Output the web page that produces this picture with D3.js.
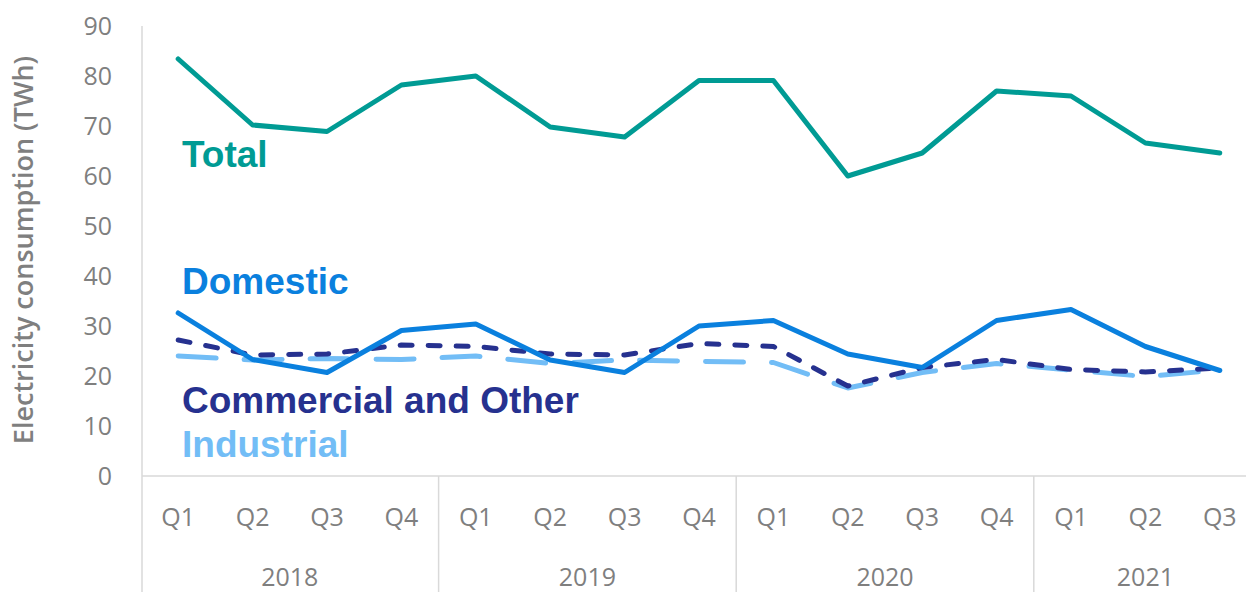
<!DOCTYPE html>
<html>
<head>
<meta charset="utf-8">
<script src="https://cdn.jsdelivr.net/npm/d3@7"></script>
<style>
  body { margin: 0; background: #fff; }
  svg { display: block; }
</style>
</head>
<body>
<div id="chart"></div>
<script>
// quarters and years for the two-level category axis
var quarters = ["Q1","Q2","Q3","Q4","Q1","Q2","Q3","Q4","Q1","Q2","Q3","Q4","Q1","Q2","Q3"];
var years = ["2018","2019","2020","2021"];
var yearCounts = [4, 4, 4, 3];
var yTicks = [0, 10, 20, 30, 40, 50, 60, 70, 80, 90];

// electricity consumption, TWh
var total      = [83.4, 70.2, 68.9, 78.2, 80.0, 69.8, 67.8, 79.1, 79.1, 60.0, 64.6, 77.0, 76.0, 66.6, 64.6];
var domestic   = [32.6, 23.3, 20.7, 29.1, 30.4, 23.2, 20.7, 30.0, 31.1, 24.4, 21.7, 31.1, 33.3, 25.9, 21.1];
var commercial = [27.2, 24.2, 24.4, 26.2, 25.9, 24.4, 24.2, 26.5, 25.9, 18.0, 21.7, 23.3, 21.3, 20.8, 21.6];
var industrial = [24.0, 23.2, 23.5, 23.3, 24.0, 22.5, 23.2, 22.9, 22.7, 17.6, 20.7, 22.5, 21.2, 19.9, 21.2];

var W = 1246, H = 592;
var svg = d3.select("#chart").append("svg")
    .attr("width", W)
    .attr("height", H);

var x = d3.scaleBand()
    .domain(d3.range(quarters.length))
    .range([141, 1257])
    .padding(0);
var bw = x.bandwidth();
function cx(i) { return x(i) + bw / 2; }

var y = d3.scaleLinear().domain([0, 90]).range([476, 26]);

var axisColor = "#d9d9d9";
var textColor = "#7f7f7f";
var font = "'Open Sans', sans-serif";

// y axis labels
var yAxis = svg.append("g")
    .attr("transform", "translate(142,0)")
    .call(d3.axisLeft(y).tickValues(yTicks).tickSize(0).tickPadding(30));
yAxis.select(".domain").remove();
yAxis.selectAll("text")
    .attr("font-family", font)
    .attr("font-size", 25)
    .attr("fill", textColor);

// y axis line + category axis frame
svg.append("line")
    .attr("x1", 142).attr("x2", 142)
    .attr("y1", y(90)).attr("y2", H)
    .attr("stroke", axisColor).attr("stroke-width", 1.5);
svg.append("line")
    .attr("x1", 142).attr("x2", W)
    .attr("y1", y(0)).attr("y2", y(0))
    .attr("stroke", axisColor).attr("stroke-width", 1.5);

// year separators
var bounds = [];
var acc = 0;
yearCounts.forEach(function(c) { bounds.push([acc, acc + c]); acc += c; });
svg.selectAll(".sep")
    .data(bounds.slice(1))
    .enter().append("line")
    .attr("x1", function(d) { return x(d[0]); })
    .attr("x2", function(d) { return x(d[0]); })
    .attr("y1", y(0)).attr("y2", H)
    .attr("stroke", axisColor).attr("stroke-width", 1.5);

// quarter labels
svg.selectAll(".q")
    .data(quarters)
    .enter().append("text")
    .attr("x", function(d, i) { return cx(i); })
    .attr("y", 517)
    .attr("dy", "0.35em")
    .attr("text-anchor", "middle")
    .attr("font-family", font)
    .attr("font-size", 25)
    .attr("fill", textColor)
    .text(function(d) { return d; });

// year labels
svg.selectAll(".yr")
    .data(years)
    .enter().append("text")
    .attr("x", function(d, i) { return (x(bounds[i][0]) + x(bounds[i][1] - 1) + bw) / 2; })
    .attr("y", 577)
    .attr("dy", "0.35em")
    .attr("text-anchor", "middle")
    .attr("font-family", font)
    .attr("font-size", 25)
    .attr("fill", textColor)
    .text(function(d) { return d; });

// y axis title
svg.append("text")
    .attr("transform", "translate(24," + 250 + ") rotate(-90)")
    .attr("dy", "0.35em")
    .attr("text-anchor", "middle")
    .attr("font-family", font)
    .attr("font-weight", 600)
    .attr("font-size", 27)
    .attr("fill", textColor)
    .text("Electricity consumption (TWh)");

// series lines
var line = d3.line()
    .x(function(d, i) { return cx(i); })
    .y(function(d) { return y(d); });

var series = [
  {name: "Industrial", values: industrial, color: "#72bdf6", dash: "38,28", lx: 182, ly: 457},
  {name: "Commercial and Other", values: commercial, color: "#26318f", dash: "12,16", lx: 182, ly: 413},
  {name: "Domestic", values: domestic, color: "#0a80de", dash: null, lx: 182, ly: 294},
  {name: "Total", values: total, color: "#009b94", dash: null, lx: 182, ly: 167}
];

series.forEach(function(s) {
  svg.append("path")
    .datum(s.values)
    .attr("d", line)
    .attr("fill", "none")
    .attr("stroke", s.color)
    .attr("stroke-width", 5)
    .attr("stroke-linejoin", "round")
    .attr("stroke-linecap", "round")
    .attr("stroke-dasharray", s.dash);
  svg.append("text")
    .attr("x", s.lx)
    .attr("y", s.ly)
    .attr("font-family", "'Liberation Sans', Arial, sans-serif")
    .attr("font-weight", "bold")
    .attr("font-size", 37)
    .attr("fill", s.color)
    .text(s.name);
});
</script>
</body>
</html>
